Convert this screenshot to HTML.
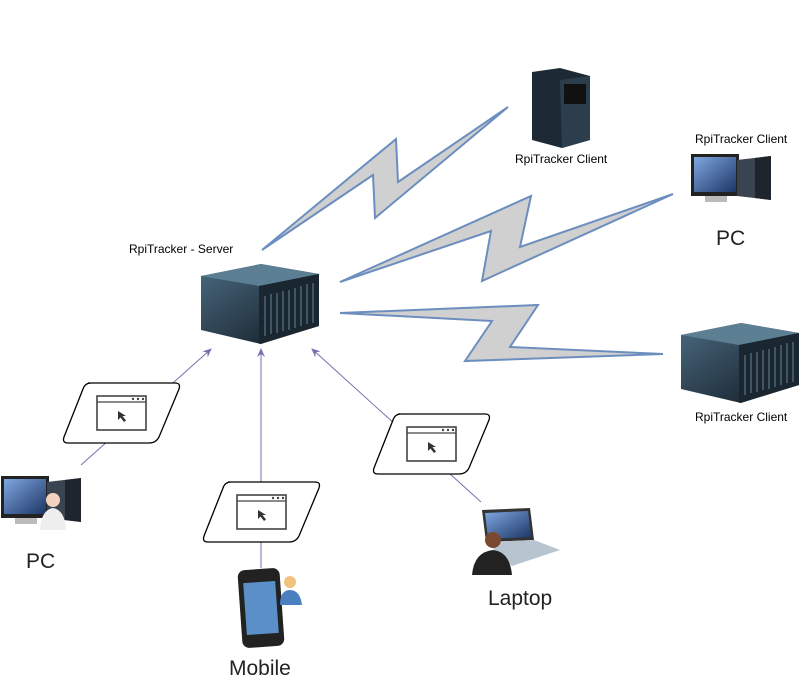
<!DOCTYPE html>
<html><head><style>
body{margin:0;background:#fff;width:802px;height:681px;overflow:hidden;font-family:"Liberation Sans",sans-serif}
</style></head><body>
<svg width="802" height="681" viewBox="0 0 802 681" xmlns="http://www.w3.org/2000/svg">
<defs>
<marker id="a" markerWidth="10" markerHeight="10" refX="8" refY="5" orient="auto" markerUnits="userSpaceOnUse"><path d="M0,1 L9,5 L0,9 L3,5z" fill="#7a6fae"/></marker>
<linearGradient id="srv" x1="0" y1="0" x2="1" y2="1"><stop offset="0" stop-color="#4a6a80"/><stop offset="1" stop-color="#101820"/></linearGradient>
<linearGradient id="scr" x1="0" y1="0" x2="1" y2="1"><stop offset="0" stop-color="#7fa7e0"/><stop offset="1" stop-color="#1c3566"/></linearGradient>
<g id="server">
<polygon points="0,12 60,0 118,10 118,62 60,80 0,66" fill="url(#srv)"/>
<polygon points="0,12 60,0 118,10 58,22" fill="#5d7f94"/>
<polygon points="58,22 118,10 118,62 58,80" fill="#1a2630"/>
<g stroke="#56707e" stroke-width="1.3">
<line x1="64" y1="32" x2="64" y2="72"/><line x1="70" y1="30" x2="70" y2="70"/><line x1="76" y1="29" x2="76" y2="69"/><line x1="82" y1="27" x2="82" y2="67"/><line x1="88" y1="26" x2="88" y2="66"/><line x1="94" y1="24" x2="94" y2="64"/><line x1="100" y1="22" x2="100" y2="62"/><line x1="106" y1="20" x2="106" y2="60"/><line x1="112" y1="19" x2="112" y2="59"/></g>
</g>
<g id="pc">
<rect x="0" y="2" width="48" height="42" fill="#222"/>
<rect x="3" y="5" width="42" height="35" fill="url(#scr)"/>
<polygon points="46,8 80,4 80,48 46,44" fill="#3a4450"/>
<polygon points="64,6 80,4 80,48 64,46" fill="#1f252c"/>
<rect x="14" y="44" width="22" height="6" fill="#bbb"/>
</g>
<g id="para">
<path d="M25,0 H112 Q118,0 116,6 L96,54 Q93,60 86,60 H5 Q-1,60 1,54 L20,6 Q22,0 28,0z" fill="#fff" stroke="#000" stroke-width="1.3"/>
<rect x="34" y="13" width="49" height="34" fill="none" stroke="#444" stroke-width="1.6"/>
<line x1="34" y1="19" x2="83" y2="19" stroke="#444" stroke-width="1.3"/>
<circle cx="70" cy="16" r="1.2" fill="#444"/><circle cx="75" cy="16" r="1.2" fill="#444"/><circle cx="80" cy="16" r="1.2" fill="#444"/>
<path d="M55,28 L55,37 L57.5,34.5 L61,39 L63,37.5 L59.5,33 L63,33z" fill="#333"/>
</g>
</defs>

<!-- bolts -->
<g fill="#d0d0d0" stroke="#6c8ebf" stroke-width="2" stroke-linejoin="miter">
<polygon points="262,250 396,139 398,182 508,107 375,218 373,175"/>
<polygon points="340,282 531,196 520,247 673,194 482,281 491,231"/>
<polygon points="340,313 538,305 510,347 663,354 465,361 492,321"/>
</g>

<!-- connectors -->
<g stroke="#7a6fae" stroke-width="1" fill="none" marker-end="url(#a)">
<line x1="81" y1="465" x2="211" y2="349"/>
<line x1="261" y1="568" x2="261" y2="349"/>
<line x1="481" y1="502" x2="312" y2="349"/>
</g>

<use href="#para" x="63" y="383"/>
<use href="#para" x="203" y="482"/>
<use href="#para" x="373" y="414"/>

<!-- servers -->
<use href="#server" x="201" y="264"/>
<use href="#server" x="681" y="323"/>
<!-- tower -->
<polygon points="532,72 560,68 590,76 590,140 562,148 532,140" fill="#1d2a35"/>
<polygon points="560,80 590,76 590,140 562,148" fill="#2c3e4c"/>
<rect x="564" y="84" width="22" height="20" fill="#111"/>
<use href="#pc" x="691" y="152"/>
<use href="#pc" x="1" y="474"/>
<circle cx="53" cy="500" r="7" fill="#f3d3bf"/><path d="M40,530 Q41,510 53,508 Q65,510 66,530z" fill="#eee"/>
<!-- phone -->
<rect x="240" y="569" width="42" height="78" rx="7" fill="#222" transform="rotate(-4 261 608)"/>
<rect x="245" y="582" width="32" height="52" fill="#5a8fc8" transform="rotate(-4 261 608)"/>
<circle cx="290" cy="582" r="6" fill="#f1c27d"/><path d="M280,605 Q280,590 290,590 Q300,590 302,605z" fill="#4a7fc0"/>
<!-- laptop -->
<polygon points="482,510 530,508 534,540 486,542" fill="#333"/>
<polygon points="485,513 528,511 531,537 488,539" fill="url(#scr)"/>
<polygon points="486,542 534,540 560,550 512,566" fill="#b8c4d0"/>
<circle cx="493" cy="540" r="8" fill="#7a4a30"/><path d="M472,575 Q474,552 493,550 Q510,552 512,575z" fill="#222"/>

<g font-size="12" fill="#000">
<text x="129" y="253">RpiTracker - Server</text>
<text x="515" y="163">RpiTracker Client</text>
<text x="695" y="143">RpiTracker Client</text>
<text x="695" y="421">RpiTracker Client</text>
</g>
<g font-size="21" fill="#222">
<text x="716" y="245">PC</text>
<text x="26" y="568">PC</text>
<text x="229" y="675">Mobile</text>
<text x="488" y="605">Laptop</text>
</g>
</svg>
</body></html>
